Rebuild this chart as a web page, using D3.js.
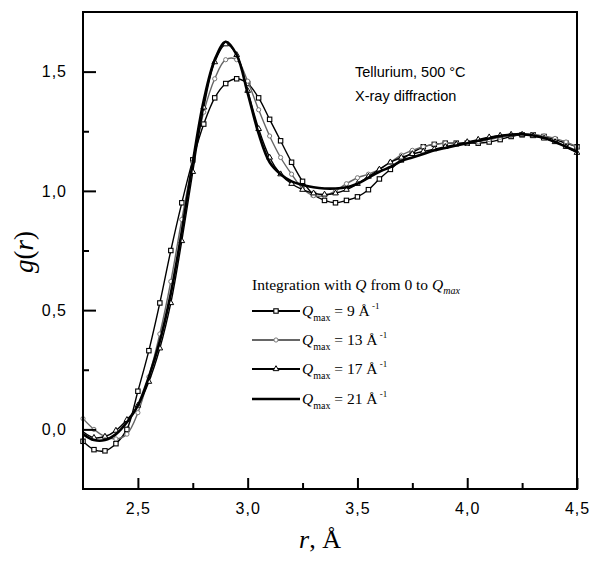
<!DOCTYPE html>
<html>
<head>
<meta charset="utf-8">
<script src="https://cdn.jsdelivr.net/npm/d3@7"></script>
<style>
  body { margin: 0; background: #fff; }
  svg { display: block; }
</style>
</head>
<body>
<svg id="chart"></svg>
<script>
const outerWidth = 593;
const outerHeight = 561;
const margin = { top: 12, right: 16, bottom: 72, left: 83 };
const width = outerWidth - margin.left - margin.right;
const height = outerHeight - margin.top - margin.bottom;

// r grid (Å), shared by all four curves
const rValues = [2.25, 2.30, 2.35, 2.40, 2.45, 2.50, 2.55, 2.60, 2.65, 2.70,
                 2.75, 2.80, 2.85, 2.90, 2.95, 3.00, 3.05, 3.10, 3.15, 3.20,
                 3.25, 3.30, 3.35, 3.40, 3.45, 3.50, 3.55, 3.60, 3.65, 3.70,
                 3.75, 3.80, 3.85, 3.90, 3.95, 4.00, 4.05, 4.10, 4.15, 4.20,
                 4.25, 4.30, 4.35, 4.40, 4.45, 4.50];

// g(r)
const gQ9 = [-0.05, -0.085, -0.09, -0.06, 0.0, 0.16, 0.33, 0.53, 0.75, 0.95,
             1.13, 1.28, 1.39, 1.45, 1.47, 1.45, 1.39, 1.30, 1.21, 1.12,
             1.04, 0.985, 0.96, 0.95, 0.96, 0.975, 1.005, 1.05, 1.09, 1.13,
             1.16, 1.185, 1.195, 1.20, 1.20, 1.20, 1.20, 1.205, 1.215, 1.228,
             1.235, 1.235, 1.228, 1.215, 1.20, 1.185];

const gQ13 = [0.045, 0.0, -0.03, -0.04, -0.02, 0.07, 0.22, 0.40, 0.62, 0.88,
              1.12, 1.33, 1.47, 1.55, 1.55, 1.46, 1.34, 1.23, 1.14, 1.07,
              1.01, 0.98, 0.98, 1.0, 1.03, 1.055, 1.07, 1.09, 1.12, 1.15,
              1.17, 1.185, 1.195, 1.20, 1.20, 1.20, 1.205, 1.215, 1.225, 1.232,
              1.236, 1.236, 1.23, 1.22, 1.205, 1.185];

const gQ17 = [-0.01, -0.035, -0.03, -0.005, 0.04, 0.10, 0.20, 0.34, 0.53, 0.79,
              1.08, 1.35, 1.54, 1.615, 1.57, 1.42, 1.26, 1.14, 1.07, 1.03,
              1.005, 0.99, 0.985, 0.99, 1.005, 1.03, 1.06, 1.09, 1.12, 1.14,
              1.155, 1.165, 1.175, 1.185, 1.195, 1.205, 1.215, 1.225, 1.232, 1.236,
              1.236, 1.23, 1.22, 1.205, 1.185, 1.16];

const gQ21 = [-0.02, -0.045, -0.045, -0.02, 0.03, 0.10, 0.22, 0.37, 0.57, 0.83,
              1.12, 1.38, 1.55, 1.625, 1.57, 1.41, 1.24, 1.12, 1.07, 1.04,
              1.025, 1.015, 1.01, 1.01, 1.015, 1.03, 1.055, 1.08, 1.10, 1.125,
              1.14, 1.155, 1.17, 1.18, 1.19, 1.20, 1.21, 1.22, 1.23, 1.236,
              1.238, 1.232, 1.222, 1.205, 1.185, 1.165];

const qmaxLabels = ["9", "13", "17", "21"];
const xTicks = [2.5, 3.0, 3.5, 4.0, 4.5];
const xMinorTicks = [2.75, 3.25, 3.75, 4.25];
const yTicks = [0.0, 0.5, 1.0, 1.5];
const yMinorTicks = [0.25, 0.75, 1.25];

const series = [
    { q: qmaxLabels[0], values: gQ9,  stroke: "#000", width: 1.4, marker: "square" },
    { q: qmaxLabels[1], values: gQ13, stroke: "#666", width: 1.4, marker: "circle" },
    { q: qmaxLabels[2], values: gQ17, stroke: "#000", width: 1.4, marker: "triangle" },
    { q: qmaxLabels[3], values: gQ21, stroke: "#000", width: 2.6, marker: null }
];

const svg0 = d3.select("#chart")
    .attr("width", outerWidth)
    .attr("height", outerHeight);

const svg = svg0.append("g")
    .attr("transform", `translate(${margin.left},${margin.top})`);

const x = d3.scaleLinear().domain([2.25, 4.5]).range([0, width]);
const y = d3.scaleLinear().domain([-0.25, 1.75]).range([height, 0]);

const commaFmt = d => d3.format(".1f")(d).replace(".", ",");

const line = d3.line()
    .x(d => x(d.r))
    .y(d => y(d.g))
    .curve(d3.curveCatmullRom.alpha(0.5));

const clip = svg.append("clipPath").attr("id", "plot-clip")
    .append("rect").attr("x", -3).attr("y", 0).attr("width", width + 6).attr("height", height);

const plot = svg.append("g").attr("clip-path", "url(#plot-clip)");

function drawMarkers(g, s, pts) {
    if (s.marker === "square") {
        g.selectAll("rect").data(pts).enter().append("rect")
            .attr("x", d => x(d.r) - 2.2)
            .attr("y", d => y(d.g) - 2.2)
            .attr("width", 4.4).attr("height", 4.4)
            .attr("fill", "#fff").attr("stroke", "#000").attr("stroke-width", 1.1);
    } else if (s.marker === "circle") {
        g.selectAll("circle").data(pts).enter().append("circle")
            .attr("cx", d => x(d.r)).attr("cy", d => y(d.g)).attr("r", 2.1)
            .attr("fill", "#fff").attr("stroke", "#777").attr("stroke-width", 1);
    } else if (s.marker === "triangle") {
        g.selectAll("path").data(pts).enter().append("path")
            .attr("transform", d => `translate(${x(d.r)},${y(d.g)})`)
            .attr("d", d3.symbol(d3.symbolTriangle, 14)())
            .attr("fill", "#fff").attr("stroke", "#000").attr("stroke-width", 1);
    }
}

series.forEach(s => {
    const pts = rValues.map((r, i) => ({ r: r, g: s.values[i] }));
    const g = plot.append("g");
    g.append("path")
        .datum(pts)
        .attr("fill", "none")
        .attr("stroke", s.stroke)
        .attr("stroke-width", s.width)
        .attr("d", line);
    drawMarkers(g, s, pts);
});

// frame
svg.append("rect")
    .attr("x", 0).attr("y", 0)
    .attr("width", width).attr("height", height)
    .attr("fill", "none")
    .attr("stroke", "#000")
    .attr("stroke-width", 2);

// axes with inward ticks
const xAxis = svg.append("g")
    .attr("transform", `translate(0,${height})`)
    .call(d3.axisBottom(x).tickValues(xTicks).tickFormat(commaFmt)
        .tickSizeInner(-11).tickSizeOuter(0).tickPadding(14));

svg.append("g")
    .attr("transform", `translate(0,${height})`)
    .call(d3.axisBottom(x).tickValues(xMinorTicks).tickFormat("")
        .tickSizeInner(-6).tickSizeOuter(0));

const yAxis = svg.append("g")
    .call(d3.axisLeft(y).tickValues(yTicks).tickFormat(commaFmt)
        .tickSizeInner(-13).tickSizeOuter(0).tickPadding(16));

svg.append("g")
    .call(d3.axisLeft(y).tickValues(yMinorTicks).tickFormat("")
        .tickSizeInner(-6).tickSizeOuter(0));

svg.selectAll(".domain").remove();
svg.selectAll(".tick line").attr("stroke", "#000").attr("stroke-width", 2);
svg.selectAll(".tick text")
    .style("font-family", "'Liberation Sans', Arial, sans-serif")
    .style("font-size", "16px")
    .style("letter-spacing", "1px")
    .attr("fill", "#000");
xAxis.selectAll(".tick text").attr("dy", "0.71em");

// axis titles
const xTitle = svg0.append("text")
    .attr("x", 320).attr("y", 548)
    .attr("text-anchor", "middle")
    .style("font-family", "'Liberation Serif', 'Times New Roman', serif")
    .style("font-size", "26px");
xTitle.append("tspan").style("font-style", "italic").text("r");
xTitle.append("tspan").text(", Å");

const yTitle = svg0.append("text")
    .attr("transform", "translate(33,252) rotate(-90)")
    .attr("text-anchor", "middle")
    .style("font-family", "'Liberation Serif', 'Times New Roman', serif")
    .style("font-size", "27px")
    .style("font-style", "italic");
yTitle.append("tspan").text("g");
yTitle.append("tspan").style("font-style", "normal").text("(");
yTitle.append("tspan").text("r");
yTitle.append("tspan").style("font-style", "normal").text(")");

// annotation
const note = svg0.append("g")
    .style("font-family", "'Liberation Sans', Arial, sans-serif")
    .style("font-size", "14.5px");
note.append("text").attr("x", 355).attr("y", 77).text("Tellurium, 500 °C");
note.append("text").attr("x", 355).attr("y", 101).text("X-ray diffraction");

// legend
const legend = svg0.append("g")
    .style("font-family", "'Liberation Serif', 'Times New Roman', serif")
    .style("font-size", "15.5px");

const head = legend.append("text").attr("x", 252).attr("y", 290);
head.append("tspan").text("Integration with ");
head.append("tspan").style("font-style", "italic").text("Q");
head.append("tspan").text(" from 0 to ");
head.append("tspan").style("font-style", "italic").text("Q");
head.append("tspan").style("font-style", "italic").style("font-size", "10px").attr("dy", 4).text("max");

const rowY = [311, 340, 369, 399];
series.forEach((s, i) => {
    const row = legend.append("g").attr("transform", `translate(252,${rowY[i]})`);
    row.append("line")
        .attr("x1", 0).attr("x2", 48)
        .attr("y1", 0).attr("y2", 0)
        .attr("stroke", s.stroke)
        .attr("stroke-width", s.marker ? 2.2 : 2.6);
    const m = row.append("g").attr("transform", "translate(24,0)");
    if (s.marker === "square") {
        m.append("rect").attr("x", -2.2).attr("y", -2.2).attr("width", 4.4).attr("height", 4.4)
            .attr("fill", "#fff").attr("stroke", "#000").attr("stroke-width", 1.1);
    } else if (s.marker === "circle") {
        m.append("circle").attr("r", 2.1).attr("fill", "#fff").attr("stroke", "#777");
    } else if (s.marker === "triangle") {
        m.append("path").attr("d", d3.symbol(d3.symbolTriangle, 14)())
            .attr("fill", "#fff").attr("stroke", "#000");
    }
    const t = row.append("text").attr("x", 50).attr("y", 5);
    t.append("tspan").style("font-style", "italic").text("Q");
    t.append("tspan").style("font-size", "10px").attr("dy", 5).text("max");
    t.append("tspan").attr("dy", -5).text(` = ${s.q} Å`);
    t.append("tspan").style("font-size", "9px").attr("dy", -7).text(" -1");
});
</script>
</body>
</html>
